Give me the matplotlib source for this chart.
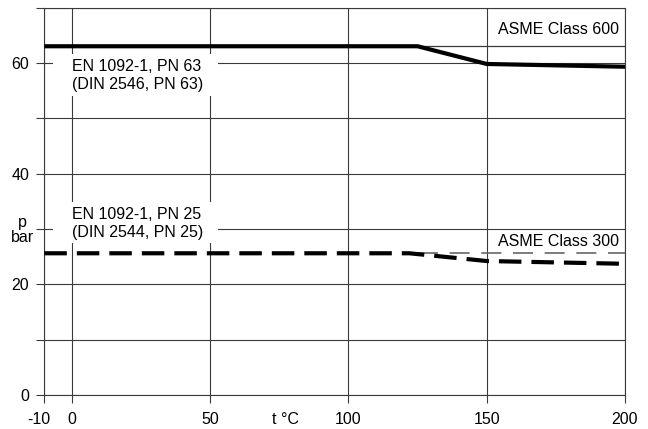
import matplotlib
matplotlib.use('Agg')
import matplotlib.pyplot as plt
from matplotlib.patches import Rectangle
from matplotlib.transforms import ScaledTranslation

plt.rcParams['font.family'] = ['Liberation Sans', 'DejaVu Sans']

# ── Data ──────────────────────────────────────────────────────
en_temps = [-10, 200]
pn63 = [63, 63]
pn25_temps = [125, 200]
pn25 = [25.6, 25.6]

asme600_temps = [-10, 125, 150, 200]
asme600 = [63, 63, 59.8, 59.3]
asme300_temps = [-10, 122, 150, 200]
asme300 = [25.6, 25.6, 24.2, 23.7]

x_ticks = [-10, 0, 50, 100, 150, 200]
x_labels = ["-10", "0", "50", "100", "150", "200"]
y_ticks = [0, 10, 20, 30, 40, 50, 60, 70]
y_labels = ["0", "", "20", "", "40", "", "60", ""]

GRID = '#3a3a3a'
FS = 11.5

fig = plt.figure(figsize=(6.48, 4.29), dpi=100)
ax = fig.add_axes([0.0684, 0.0793, 0.8961, 0.9032])

ax.set_xlim(-10, 200)
ax.set_ylim(0, 70)
ax.set_xticks(x_ticks)
ax.set_xticklabels(x_labels)
ax.set_yticks(y_ticks)
ax.set_yticklabels(y_labels)
ax.grid(True, color=GRID, linewidth=0.8)
for s in ax.spines.values():
    s.set_color(GRID)
    s.set_linewidth(0.8)
ax.tick_params(axis='both', colors=GRID, labelcolor='black', length=5.5,
               width=0.8, labelsize=FS)
ax.tick_params(axis='x', pad=6.5)
ax.tick_params(axis='y', pad=5.5)

# the "-10" label sits a little left of its tick in the original
lbl = ax.get_xticklabels()[0]
lbl.set_transform(lbl.get_transform() + ScaledTranslation(-6 / 100, 0, fig.dpi_scale_trans))

# EN 1092-1 thin reference lines
ax.plot(en_temps, pn63, color=GRID, linewidth=0.9, zorder=3)
ax.plot(pn25_temps, pn25, color='#666666', linewidth=1.2,
        linestyle=(0, (12, 7)), zorder=3)

# ASME curves
ax.plot(asme600_temps, asme600, color='black', linewidth=3.0,
        solid_capstyle='butt', zorder=4)
ax.plot(asme300_temps, asme300, color='black', linewidth=3.0,
        linestyle=(0, (5.4, 2.4)), dash_capstyle='butt', zorder=4)

# white label boxes
ax.add_patch(Rectangle((-6.9, 54.05), 59.6, 7.55, facecolor='white',
                       edgecolor='none', zorder=2.5))
ax.add_patch(Rectangle((-6.9, 27.4), 59.6, 7.4, facecolor='white',
                       edgecolor='none', zorder=2.5))

ax.text(0, 57.7, "EN 1092-1, PN 63\n(DIN 2546, PN 63)", fontsize=FS,
        ha='left', va='center', linespacing=1.2, zorder=5)
ax.text(0, 31.0, "EN 1092-1, PN 25\n(DIN 2544, PN 25)", fontsize=FS,
        ha='left', va='center', linespacing=1.2, zorder=5)
ax.text(197.8, 66.1, "ASME Class 600", fontsize=FS, ha='right',
        va='center', zorder=5)
ax.text(197.8, 27.8, "ASME Class 300", fontsize=FS, ha='right',
        va='center', zorder=5)

fig.text(22 / 648, 1 - 230 / 429, "p\nbar", fontsize=FS, ha='center',
         va='center', linespacing=1.05)
fig.text(285 / 648, 1 - 419 / 429, "t °C", fontsize=FS, ha='center',
         va='center')

plt.savefig("out.png", dpi=100)
plt.close()
